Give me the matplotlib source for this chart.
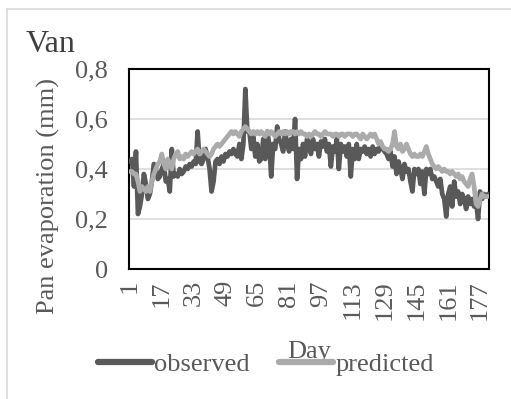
import matplotlib
matplotlib.use("Agg")
import matplotlib.pyplot as plt
from matplotlib.lines import Line2D
import numpy as np

plt.rcParams['font.family'] = ['Liberation Serif', 'DejaVu Serif']

observed = [
    0.43, 0.44, 0.33, 0.47, 0.22, 0.25, 0.30, 0.38, 0.34, 0.28,
    0.30, 0.35, 0.42, 0.40, 0.36, 0.37, 0.40, 0.42, 0.35, 0.36,
    0.31, 0.48, 0.37, 0.38, 0.37, 0.40, 0.38, 0.39, 0.41, 0.40,
    0.42, 0.41, 0.43, 0.42, 0.55, 0.43, 0.42, 0.44, 0.48, 0.45,
    0.40, 0.31, 0.35, 0.43, 0.44, 0.42, 0.45, 0.43, 0.46, 0.45,
    0.47, 0.46, 0.48, 0.46, 0.45, 0.50, 0.44, 0.50, 0.72, 0.55,
    0.55, 0.48, 0.53, 0.45, 0.50, 0.43, 0.44, 0.52, 0.44, 0.55,
    0.50, 0.37, 0.50, 0.48, 0.57, 0.52, 0.50, 0.47, 0.55, 0.50,
    0.47, 0.52, 0.48, 0.60, 0.36, 0.48, 0.44, 0.50, 0.45, 0.52,
    0.50, 0.46, 0.52, 0.48, 0.50, 0.45, 0.51, 0.49, 0.52, 0.47,
    0.50, 0.41, 0.49, 0.47, 0.52, 0.40, 0.50, 0.47, 0.49, 0.45,
    0.50, 0.37, 0.48, 0.44, 0.50, 0.44, 0.48, 0.47, 0.49, 0.46,
    0.48, 0.45, 0.49, 0.46, 0.48, 0.47, 0.50, 0.48, 0.47, 0.46,
    0.44, 0.47, 0.41, 0.45, 0.38, 0.43, 0.40, 0.36, 0.42, 0.39,
    0.40, 0.35, 0.31, 0.40, 0.38, 0.40, 0.34, 0.39, 0.30, 0.40,
    0.38, 0.40, 0.36, 0.37, 0.35, 0.33, 0.36, 0.30, 0.28, 0.21,
    0.30, 0.33, 0.25, 0.35, 0.29, 0.31, 0.26, 0.30, 0.28, 0.24,
    0.29, 0.26, 0.28, 0.25, 0.27, 0.20, 0.31, 0.28, 0.30, 0.29, 0.30,
]

predicted = [
    0.39, 0.39, 0.38, 0.38, 0.35, 0.31, 0.33, 0.32, 0.31, 0.33,
    0.31, 0.35, 0.38, 0.40, 0.42, 0.43, 0.46, 0.42, 0.40, 0.44,
    0.42, 0.40, 0.44, 0.46, 0.47, 0.44, 0.45, 0.44, 0.46, 0.45,
    0.46, 0.47, 0.46, 0.47, 0.48, 0.46, 0.47, 0.48, 0.47, 0.46,
    0.45, 0.46, 0.48, 0.49, 0.50, 0.49, 0.50, 0.51, 0.52, 0.53,
    0.54, 0.55, 0.54, 0.55, 0.54, 0.53, 0.55, 0.56, 0.57, 0.56,
    0.55, 0.54, 0.55, 0.54, 0.55, 0.54, 0.55, 0.54, 0.53, 0.55,
    0.54, 0.55, 0.54, 0.53, 0.54, 0.55, 0.54, 0.55, 0.54, 0.55,
    0.54, 0.55, 0.55, 0.54, 0.55, 0.54, 0.55, 0.54, 0.54, 0.53,
    0.54, 0.53, 0.54, 0.55, 0.54, 0.54, 0.53, 0.54, 0.55, 0.54,
    0.54, 0.54, 0.53, 0.54, 0.54, 0.53, 0.54, 0.54, 0.53, 0.54,
    0.54, 0.54, 0.53, 0.54, 0.54, 0.53, 0.52, 0.54, 0.53, 0.52,
    0.53, 0.54, 0.53, 0.54, 0.52, 0.50, 0.51, 0.49, 0.48, 0.48,
    0.47, 0.48, 0.50, 0.55, 0.49, 0.48, 0.50, 0.47, 0.48, 0.50,
    0.48, 0.46, 0.45, 0.46, 0.45, 0.45, 0.46, 0.45, 0.47, 0.49,
    0.46, 0.44, 0.42, 0.41, 0.40, 0.41, 0.40, 0.39, 0.40, 0.39,
    0.39, 0.38, 0.39, 0.38, 0.37, 0.38, 0.36, 0.37, 0.35, 0.34,
    0.33, 0.36, 0.38, 0.33, 0.26, 0.25, 0.28, 0.30, 0.29, 0.29, 0.29,
]

days = np.arange(1, len(observed) + 1)
xtick_days = list(range(1, 178, 16))
ytick_vals = [0, 0.2, 0.4, 0.6, 0.8]
ytick_labels = ["0", "0,2", "0,4", "0,6", "0,8"]

W, H = 511, 399
fig = plt.figure(figsize=(W / 100, H / 100), dpi=100)
ax = fig.add_axes([129 / W, 1 - 269 / H, 360 / W, 200 / H])

c_obs = "#595959"
c_pred = "#ABABAB"
txt = "#595959"
fs = 19

ax.plot(days, observed, color=c_obs, lw=3.4, solid_capstyle="round",
        solid_joinstyle="round", zorder=3)
ax.plot(days, predicted, color=c_pred, lw=3.4, solid_capstyle="round",
        solid_joinstyle="round", zorder=4)

ax.set_xlim(0.5, len(days) + 0.5)
ax.set_ylim(0, 0.8)
ax.set_yticks(ytick_vals)
ax.set_yticklabels(ytick_labels)
ax.set_xticks(xtick_days)
ax.set_xticklabels([str(d) for d in xtick_days], rotation=90)
ax.tick_params(axis="both", length=0, labelsize=fs, colors=txt)
ax.tick_params(axis="y", pad=15)
ax.tick_params(axis="x", pad=8)
for t in ax.get_xticklabels():
    t.set_va("top")
    t.set_ha("center")

ax.grid(axis="y", color="#D9D9D9", lw=1.2)
ax.set_axisbelow(True)
for s in ax.spines.values():
    s.set_color("black")
    s.set_linewidth(1.5)

fig.text(48 / W, 1 - 196 / H, "Pan evaporation (mm)", rotation=90, ha="center",
         va="center", fontsize=fs, color=txt)
fig.text(26 / W, 1 - 44 / H, "Van", ha="left", va="center", fontsize=23,
         color="#404040")
fig.text(309 / W, 1 - 352 / H, "Day", ha="center", va="center", fontsize=fs,
         color=txt)

handles = [Line2D([], [], color=c_obs, lw=4.5, solid_capstyle="round"),
           Line2D([], [], color=c_pred, lw=4.5, solid_capstyle="round")]
fig.legend(handles, ["observed", "predicted"], loc="center",
           bbox_to_anchor=(266 / W, 1 - 364 / H), ncol=2, frameon=False,
           fontsize=fs, handlelength=2.05, handletextpad=0.08,
           columnspacing=1.1, labelcolor=txt, borderpad=0, borderaxespad=0)

# outer chart border (light gray)
fig.add_artist(Line2D([7 / W, 7 / W], [0, 1 - 9 / H], transform=fig.transFigure,
                      color="#D9D9D9", lw=1.2))
fig.add_artist(Line2D([7 / W, 1], [1 - 9 / H, 1 - 9 / H], transform=fig.transFigure,
                      color="#D9D9D9", lw=1.2))

fig.savefig("out.png", dpi=100, facecolor="white")
